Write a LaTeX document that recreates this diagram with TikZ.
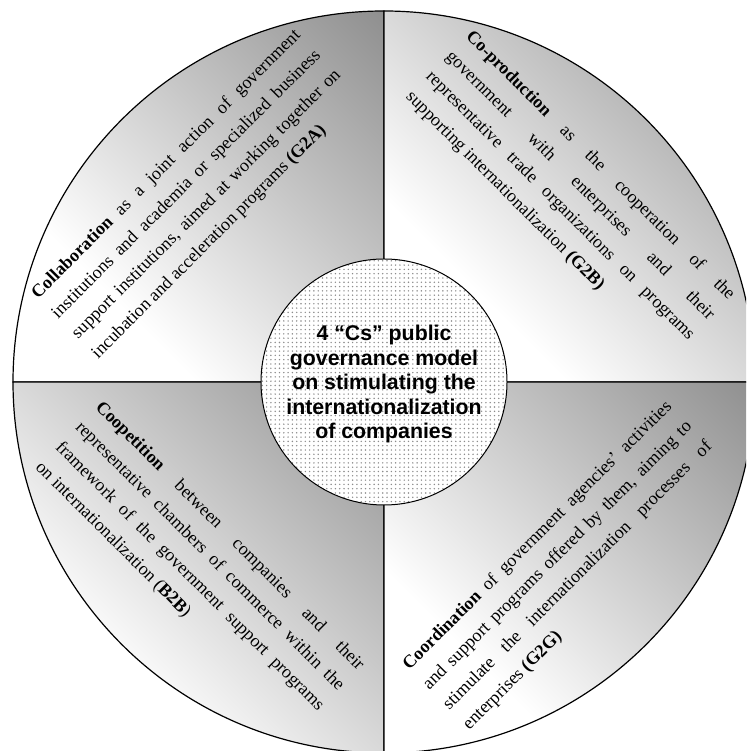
\documentclass[tikz,border=0pt]{standalone}
\usepackage{fontspec}
\setmainfont{Liberation Serif}
\newfontfamily\arialfont{Liberation Sans}
\usetikzlibrary{calc,patterns.meta}
\pgfdeclarehorizontalshading{quadshade}{100bp}{color(0bp)=(white); color(32bp)=(white); color(100bp)=(black!56)}
\newcommand\JLine[1]{\makebox[372pt][s]{#1}}
\newcommand\LLine[1]{\makebox[372pt][l]{#1}}
\begin{document}
\begin{tikzpicture}[x=1pt,y=1pt,
  quad/.style={shading=quadshade, shading angle=45, draw=black, line width=1.2pt},
  blk/.style={font=\fontsize{18}{28.3}\selectfont, align=left, inner sep=0pt, anchor=center},
  hubtext/.style={font=\arialfont\bfseries\fontsize{21.3}{24.5}\selectfont, align=center, inner sep=0pt}]
\useasboundingbox (0,0) rectangle (746,751);
\clip (0,0) rectangle (746,751);
\coordinate (c) at (384,369);
\def\R{371}
% quadrants
\shadedraw[quad] (c) -- ++(180:\R) arc[start angle=180,end angle=90,radius=\R] -- cycle;
\shadedraw[quad] (c) -- ++(90:\R) arc[start angle=90,end angle=0,radius=\R] -- cycle;
\shadedraw[quad] (c) -- ++(180:\R) arc[start angle=180,end angle=270,radius=\R] -- cycle;
\shadedraw[quad] (c) -- ++(270:\R) arc[start angle=270,end angle=360,radius=\R] -- cycle;
% hub
\fill[white] (c) circle (123);
\fill[pattern={Dots[distance=4.3pt, radius=0.8pt]}, pattern color=black!45] (c) circle (123);
\draw[line width=1pt] (c) circle (123);
\node[hubtext] (hub) at ($(c)+(0,-2)$) {4 “Cs” public\\governance model\\on stimulating the\\internationalization\\of companies};
% texts
\node[blk, rotate=45] (collab) at ($(c)+(135:265)$) {%
\JLine{{\bfseries Collaboration} as a joint action of government}\\
\JLine{institutions and academia or specialized business}\\
\JLine{support institutions, aimed at working together on}\\
\LLine{incubation and acceleration programs {\bfseries (G2A)}}};
\node[blk, rotate=-45] (coprod) at ($(c)+(45:263)$) {%
\JLine{{\bfseries Co-production} as the cooperation of the}\\
\JLine{government with enterprises and their}\\
\JLine{representative trade organizations on programs}\\
\LLine{supporting internationalization {\bfseries (G2B)}}};
\node[blk, rotate=-45] (coopet) at ($(c)+(225:261)$) {%
\JLine{{\bfseries Coopetition} between companies and their}\\
\JLine{representative chambers of commerce within the}\\
\JLine{framework of the government support programs}\\
\LLine{on internationalization ({\bfseries B2B})}};
\node[blk, rotate=45] (coord) at ($(c)+(315:260)$) {%
\JLine{{\bfseries Coordination} of government agencies’ activities}\\
\JLine{and support programs offered by them, aiming to}\\
\JLine{stimulate the internationalization processes of}\\
\LLine{enterprises {\bfseries (G2G)}}};
\end{tikzpicture}
\end{document}
